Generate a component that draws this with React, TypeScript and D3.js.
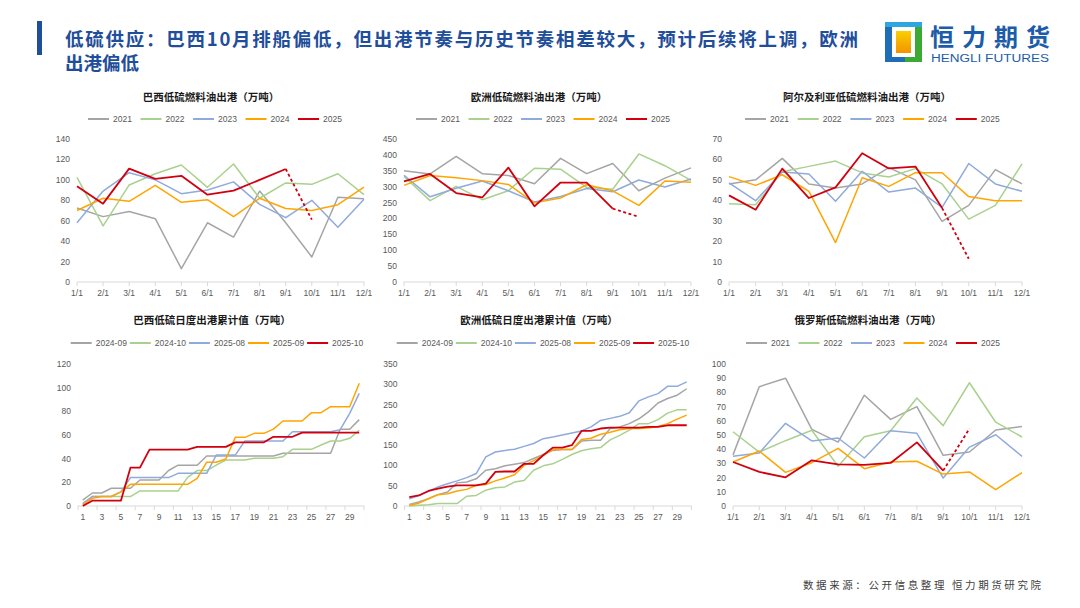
import React from 'react';
import * as d3 from 'd3';

// 分类
const months = ['1/1', '2/1', '3/1', '4/1', '5/1', '6/1', '7/1', '8/1', '9/1', '10/1', '11/1', '12/1'];
const days = ['1', '2', '3', '4', '5', '6', '7', '8', '9', '10', '11', '12', '13', '14', '15',
  '16', '17', '18', '19', '20', '21', '22', '23', '24', '25', '26', '27', '28', '29', '30'];
const yearNames = ['2021', '2022', '2023', '2024', '2025'];
const dailyNames = ['2024-09', '2024-10', '2025-08', '2025-09', '2025-10'];
const colors = ['#A5A5A5', '#A9D18E', '#8FAADC', '#FFA500', '#D2000F'];

// 巴西月度
const brazil2021 = [72.5, 64, 69, 62, 13, 58, 44, 89, 58, 24.5, 83, 81.5];
const brazil2022 = [102.5, 55, 95, 106, 114.5, 92.7, 115.5, 82, 97, 95.6, 106, 85.5];
const brazil2023 = [58, 89, 107, 100, 86.5, 90, 98, 76, 63, 80, 53.5, 81];
const brazil2024 = [70, 82, 79, 94.6, 78, 80.6, 64, 82, 72, 70, 75.7, 93];
const brazil2025 = [93.7, 76.7, 111, 101, 104, 85.5, 89.4, 100, 110.6, 61];

// 欧洲月度
const europe2021 = [350, 340, 395, 341, 335, 309, 389, 341, 373, 287, 327, 359];
const europe2022 = [332, 256, 301, 259, 287, 358, 355, 298, 292, 403, 366, 320];
const europe2023 = [336, 268, 295, 318, 287, 252, 269, 294, 284, 321, 299, 324];
const europe2024 = [304, 335, 328, 319, 307, 249, 264, 306, 287, 241, 318, 314];
const europe2025 = [317, 340, 280, 266, 360, 238, 313, 313, 231, 205];

// 阿尔及利亚月度
const algeria2021 = [48, 50, 60.5, 48, 46, 48, 56, 50, 29.7, 37.5, 55, 48];
const algeria2022 = [38.3, 37.8, 54, 56.6, 59.2, 53.4, 51.4, 55.5, 48, 30.8, 37.5, 57.8];
const algeria2023 = [48.5, 39.8, 53.8, 52.9, 39.5, 54.2, 44, 46, 36.5, 58, 48, 44.4];
const algeria2024 = [51.6, 47.3, 52.5, 44.4, 19.3, 51, 46.8, 53.5, 53.5, 41.8, 39.8, 39.8];
const algeria2025 = [42.4, 35.4, 55.5, 41.1, 46.3, 63, 55.6, 56.5, 36.2, 11.4];

// 俄罗斯月度
const russia2021 = [36, 84, 90, 54, 45, 78, 61, 70, 35.7, 38, 53.5, 56];
const russia2022 = [52.3, 38, 46, 53.3, 28, 48.8, 53, 76, 56.6, 86.8, 59, 48.6];
const russia2023 = [35, 37.3, 58.2, 45.8, 47.9, 33.8, 53, 51.2, 19.7, 41.5, 50.2, 35];
const russia2024 = [31, 38.7, 23.7, 30.5, 40.6, 26.3, 31, 31.5, 22.5, 24, 11.5, 23.5];
const russia2025 = [31, 24, 20.2, 32.2, 29.3, 28.9, 30.3, 44.8, 24.9, 54.5];

// 巴西日度累计
const braDaily2409 = [5, 11, 11, 15, 15, 15, 22, 22, 22, 30, 34.5, 34.5, 34.5, 42.3, 42.3, 42.3, 42.3, 42.3, 42.3, 42.3, 42.3, 44.5, 44.5, 44.5, 44.5, 44.5, 44.5, 64.8, 64.8, 73];
const braDaily2410 = [2, 8, 8, 8, 8, 8, 12.7, 12.7, 12.7, 12.7, 12.7, 24.2, 29.9, 29.9, 34.6, 38.9, 38.9, 38.9, 40.3, 40.3, 40.3, 41.7, 47.9, 47.9, 47.9, 51.5, 54.9, 54.9, 57.2, 64];
const braDaily2508 = [2, 8, 8, 8, 12, 24, 24, 24, 24, 24, 27.6, 27.6, 27.6, 27.6, 43, 43, 43, 55, 55, 55, 55, 55, 62.8, 62.8, 62.8, 62.8, 62.8, 64.5, 78.3, 95.2];
const braDaily2509 = [1, 6.5, 8, 8, 12, 18.3, 18.3, 18.3, 18.3, 18.3, 18.3, 18.3, 23.4, 37, 37, 39.7, 58, 58, 61.4, 61.4, 65, 71.8, 71.8, 71.8, 78.9, 78.9, 83.9, 83.9, 83.9, 103.7];
const braDaily2510 = [0, 4.5, 4.5, 4.5, 4.5, 32.4, 32.4, 47.6, 47.6, 47.6, 47.6, 47.6, 50, 50, 50, 50, 53.8, 53.8, 53.8, 53.8, 58.5, 58.5, 58.5, 62, 62, 62, 62, 62, 62, 62];

// 欧洲日度累计
const euDaily2409 = [4, 10, 18, 28, 34.5, 57, 59, 67, 88, 92, 99, 103, 107, 117, 127, 137, 139, 139, 160, 162, 162, 191, 195, 203, 215, 232, 254, 265, 273, 289];
const euDaily2410 = [0, 2, 3, 6, 6, 6, 24, 26, 39, 45, 47, 59, 63, 88, 99, 104, 115, 127, 136, 141, 144, 163, 174, 187, 203, 203, 213, 229, 237, 237];
const euDaily2508 = [18, 26, 36, 47, 55, 62, 70, 80, 121, 133, 137, 140, 147, 154, 166, 170, 175, 180, 185, 195, 211, 216, 221, 230, 259, 269, 277, 295, 295, 306];
const euDaily2509 = [2, 7, 18, 28, 30, 37, 41, 51, 53, 62, 69, 77, 100, 112, 125, 139, 139, 139, 164, 167, 177, 182, 188, 191, 191, 192, 196, 203, 214, 224];
const euDaily2510 = [22, 26, 37, 43, 48, 51, 51, 51, 55, 84, 85, 85, 104, 104, 125, 144, 144, 150, 185, 185, 191, 193, 193, 193, 193, 195, 195, 199, 199, 199];

type Series = { name: string; values: number[]; color: string; dashFrom?: number };

const mk = (names: string[], arrs: number[][], dashFrom?: number): Series[] =>
  arrs.map((v, i) => ({
    name: names[i],
    values: v,
    color: colors[i],
    dashFrom: i === 4 ? dashFrom : undefined,
  }));

interface PanelProps {
  title: string;
  titleX: number;
  titleY: number;
  cats: string[];
  series: Series[];
  yMax: number;
  yStep: number;
  x0: number;
  x1: number;
  top: number;
  bottom: number;
  band?: boolean;
  legendX: number;
  legendStep: number;
  legendY: number;
}

const numFont = '"Liberation Sans", Arial, sans-serif';
const cjkFont = '"Noto Sans CJK SC", "Noto Sans", sans-serif';

const Panel: React.FC<PanelProps> = (p) => {
  const y = d3.scaleLinear().domain([0, p.yMax]).range([p.bottom, p.top]);
  let xPos: (i: number) => number;
  let tickXs: number[];
  let labelIdx: number[];
  if (p.band) {
    const xb = d3.scaleBand<string>().domain(p.cats).range([p.x0, p.x1]);
    const bw = xb.bandwidth();
    xPos = (i) => (xb(p.cats[i]) as number) + bw / 2;
    tickXs = [];
    for (let i = 0; i <= p.cats.length; i += 2) tickXs.push(p.x0 + i * bw);
    labelIdx = p.cats.map((_, i) => i).filter((i) => i % 2 === 0);
  } else {
    const xp = d3.scalePoint<string>().domain(p.cats).range([p.x0, p.x1]);
    xPos = (i) => xp(p.cats[i]) as number;
    tickXs = p.cats.map((_, i) => xPos(i));
    labelIdx = p.cats.map((_, i) => i);
  }
  const yTicks = d3.range(0, p.yMax + p.yStep / 2, p.yStep);
  const line = d3
    .line<[number, number]>()
    .x((d) => d[0])
    .y((d) => d[1]);

  return (
    <g>
      <text
        x={p.titleX}
        y={p.titleY}
        textAnchor="middle"
        dy="0.35em"
        fontFamily={cjkFont}
        fontWeight="bold"
        fontSize={10.5}
        fill="#1a1a1a"
      >
        {p.title}
      </text>
      {p.series.map((s, i) => {
        const lx = p.legendX + i * p.legendStep;
        return (
          <g key={'lg' + i}>
            <line x1={lx} x2={lx + 21} y1={p.legendY} y2={p.legendY} stroke={s.color} strokeWidth={2} />
            <text x={lx + 25} y={p.legendY} dy="0.35em" fontFamily={numFont} fontSize={8.5} fill="#595959">
              {s.name}
            </text>
          </g>
        );
      })}
      {yTicks.map((t) => (
        <text
          key={'yt' + t}
          x={p.x0 - 7}
          y={y(t)}
          dy="0.35em"
          textAnchor="end"
          fontFamily={numFont}
          fontSize={8.5}
          fill="#595959"
        >
          {t}
        </text>
      ))}
      <line x1={p.x0} x2={p.x1} y1={p.bottom} y2={p.bottom} stroke="#D9D9D9" strokeWidth={1} />
      {tickXs.map((tx, i) => (
        <line key={'tk' + i} x1={tx} x2={tx} y1={p.bottom} y2={p.bottom + 4} stroke="#D9D9D9" strokeWidth={1} />
      ))}
      {labelIdx.map((i) => (
        <text
          key={'xl' + i}
          x={xPos(i)}
          y={p.bottom + 11}
          dy="0.35em"
          textAnchor="middle"
          fontFamily={numFont}
          fontSize={8.5}
          fill="#595959"
        >
          {p.cats[i]}
        </text>
      ))}
      {p.series.map((s, si) => {
        const pts: [number, number][] = s.values.map((v, i) => [xPos(i), y(v)]);
        const solidEnd = s.dashFrom !== undefined ? s.dashFrom + 1 : pts.length;
        const solid = pts.slice(0, solidEnd);
        const dashed = s.dashFrom !== undefined ? pts.slice(s.dashFrom) : [];
        const w = si === 4 ? 1.8 : 1.5;
        return (
          <g key={'s' + si}>
            <path d={line(solid) || ''} fill="none" stroke={s.color} strokeWidth={w} strokeLinejoin="round" />
            {dashed.length > 1 && (
              <path d={line(dashed) || ''} fill="none" stroke={s.color} strokeWidth={w} strokeDasharray="3,2.5" />
            )}
          </g>
        );
      })}
    </g>
  );
};

const Logo: React.FC = () => (
  <g>
    <defs>
      <linearGradient id="lgOrange" x1="0" y1="0" x2="0" y2="1">
        <stop offset="0" stopColor="#F8D000" />
        <stop offset="1" stopColor="#F39200" />
      </linearGradient>
    </defs>
    {/* 左侧蓝色 */}
    <rect x={885} y={22} width={7} height={40} fill="#1E6DB6" />
    <rect x={885} y={22} width={20} height={5} fill="#2FA6DF" />
    <rect x={885} y={57} width={20} height={5} fill="#1E6DB6" />
    {/* 右侧绿色 */}
    <rect x={915} y={22} width={7} height={40} fill="#3AAA35" />
    <rect x={905} y={22} width={17} height={5} fill="#2FA6DF" />
    <rect x={905} y={57} width={17} height={5} fill="#3AAA35" />
    <rect x={896} y={31} width={15} height={22} fill="url(#lgOrange)" />
    <text x={930} y={46} fontFamily={cjkFont} fontWeight="bold" fontSize={24} fill="#1D5CA8" textLength={120} lengthAdjust="spacing">
      恒力期货
    </text>
    <text x={931} y={62} fontFamily={numFont} fontSize={10} fill="#1D5CA8" textLength={118} lengthAdjust="spacingAndGlyphs">
      HENGLI FUTURES
    </text>
  </g>
);

export default function App() {
  return (
    <div style={{ position: 'absolute', left: 0, top: 0, width: 1080, height: 608, background: '#fff' }}>
      <svg width={1080} height={608} style={{ display: 'block' }}>
        <rect x={0} y={0} width={1080} height={608} fill="#fff" />
        <rect x={37} y={21} width={5} height={34} fill="#1F4E9A" />
        <text x={65} y={46} fontFamily={cjkFont} fontWeight="bold" fontSize={18.5} fill="#1F4E9A" textLength={793} lengthAdjust="spacing">
          低硫供应：巴西10月排船偏低，但出港节奏与历史节奏相差较大，预计后续将上调，欧洲
        </text>
        <text x={65} y={70} fontFamily={cjkFont} fontWeight="bold" fontSize={18.5} fill="#1F4E9A">
          出港偏低
        </text>
        <Logo />

        <Panel
          title="巴西低硫燃料油出港（万吨）"
          titleX={211}
          titleY={97}
          cats={months}
          series={mk(yearNames, [brazil2021, brazil2022, brazil2023, brazil2024, brazil2025], 8)}
          yMax={140}
          yStep={20}
          x0={77}
          x1={364}
          top={139}
          bottom={282}
          legendX={88}
          legendStep={52.5}
          legendY={119}
        />
        <Panel
          title="欧洲低硫燃料油出港（万吨）"
          titleX={539}
          titleY={97}
          cats={months}
          series={mk(yearNames, [europe2021, europe2022, europe2023, europe2024, europe2025], 8)}
          yMax={450}
          yStep={50}
          x0={404}
          x1={691}
          top={139}
          bottom={282}
          legendX={416}
          legendStep={52.5}
          legendY={119}
        />
        <Panel
          title="阿尔及利亚低硫燃料油出港（万吨）"
          titleX={867}
          titleY={97}
          cats={months}
          series={mk(yearNames, [algeria2021, algeria2022, algeria2023, algeria2024, algeria2025], 8)}
          yMax={70}
          yStep={10}
          x0={729}
          x1={1022}
          top={139}
          bottom={282}
          legendX={745}
          legendStep={52.7}
          legendY={119}
        />
        <Panel
          title="巴西低硫日度出港累计值（万吨）"
          titleX={212}
          titleY={320}
          cats={days}
          band
          series={mk(dailyNames, [braDaily2409, braDaily2410, braDaily2508, braDaily2509, braDaily2510])}
          yMax={120}
          yStep={20}
          x0={78}
          x1={364}
          top={364}
          bottom={506}
          legendX={70.7}
          legendStep={59.1}
          legendY={343}
        />
        <Panel
          title="欧洲低硫日度出港累计值（万吨）"
          titleX={539}
          titleY={320}
          cats={days}
          band
          series={mk(dailyNames, [euDaily2409, euDaily2410, euDaily2508, euDaily2509, euDaily2510])}
          yMax={350}
          yStep={50}
          x0={404.5}
          x1={691.5}
          top={364}
          bottom={506}
          legendX={396.7}
          legendStep={59.1}
          legendY={343}
        />
        <Panel
          title="俄罗斯低硫燃料油出港（万吨）"
          titleX={868}
          titleY={320}
          cats={months}
          series={mk(yearNames, [russia2021, russia2022, russia2023, russia2024, russia2025], 8)}
          yMax={100}
          yStep={10}
          x0={733}
          x1={1022}
          top={364}
          bottom={506}
          legendX={746}
          legendStep={52.5}
          legendY={343}
        />

        <text x={803} y={589} fontFamily={cjkFont} fontSize={10.5} fill="#404040" textLength={238} lengthAdjust="spacing">
          数据来源：公开信息整理  恒力期货研究院
        </text>
      </svg>
    </div>
  );
}
